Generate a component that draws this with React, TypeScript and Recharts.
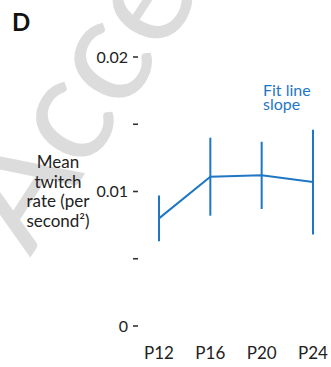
import { ErrorBar, Line, LineChart, XAxis, YAxis } from 'recharts';

const ages = [12, 16, 20, 24];
const meanRate = [0.008, 0.0111, 0.0112, 0.0107];
const semRate = [0.0017, 0.0029, 0.0025, 0.0039];
const yTicks = [0, 0.005, 0.01, 0.015, 0.02];
const yTickLabels = ['0', '', '0.01', '', '0.02'];
const yLabelLines = ['Mean', 'twitch', 'rate (per', 'second²)'];

const data = ages.map((age, i) => ({ age, mean: meanRate[i], err: semRate[i] }));

const BLUE = '#1f77c4';
const FONT = 'Lato, "Open Sans", sans-serif';

export default function App() {
  return (
    <div style={{ position: 'absolute', left: 0, top: 0, width: 331, height: 367, background: '#fff', fontFamily: FONT, overflow: 'hidden' }}>
      {/* faint "Accepted" watermark behind the panel */}
      <svg width={331} height={367} style={{ position: 'absolute', left: 0, top: 0 }}>
        <text
          transform="translate(30, 258) rotate(-57)"
          fontSize={150}
          fontFamily={FONT}
          fill="#dcdcdc"
        >
          Accepted
        </text>
      </svg>
      <div style={{ position: 'absolute', left: 0, top: 0 }}>
        <LineChart width={331} height={367} data={data} margin={{ top: 57, right: 8, bottom: 0, left: 0 }}>
          <XAxis
            dataKey="age"
            type="number"
            domain={[12, 24]}
            ticks={ages}
            tickFormatter={(v: number) => `P${v}`}
            padding={{ left: 21, right: 10 }}
            height={41}
            axisLine={false}
            tickLine={false}
            tickSize={0}
            tickMargin={21}
            tick={{ fontSize: 17, fill: '#222', fontFamily: FONT }}
          />
          <YAxis
            domain={[0, 0.02]}
            ticks={yTicks}
            tickFormatter={(v: number) => yTickLabels[yTicks.indexOf(v)] ?? ''}
            width={138}
            axisLine={false}
            tickSize={5}
            tickMargin={5}
            tickLine={{ stroke: '#333', strokeWidth: 1.6 }}
            tick={{ fontSize: 16, fill: '#222', fontFamily: FONT }}
            label={{
              content: () => (
                <text textAnchor="middle" fontSize={17} fill="#222" fontFamily={FONT}>
                  {yLabelLines.map((line, i) => (
                    <tspan key={line} x={58} y={168 + i * 19.5}>
                      {line}
                    </tspan>
                  ))}
                </text>
              ),
            }}
          />
          <Line
            dataKey="mean"
            stroke={BLUE}
            strokeWidth={2}
            dot={false}
            isAnimationActive={false}
          >
            <ErrorBar dataKey="err" width={0} stroke={BLUE} strokeWidth={2} direction="y" />
          </Line>
        </LineChart>
      </div>
      <div style={{ position: 'absolute', left: 12, top: 8, fontSize: 24, fontWeight: 700, color: '#111', lineHeight: '28px' }}>
        D
      </div>
      <div style={{ position: 'absolute', left: 263, top: 83, fontSize: 16, color: BLUE, lineHeight: '14px' }}>
        Fit line
        <br />
        slope
      </div>
    </div>
  );
}
